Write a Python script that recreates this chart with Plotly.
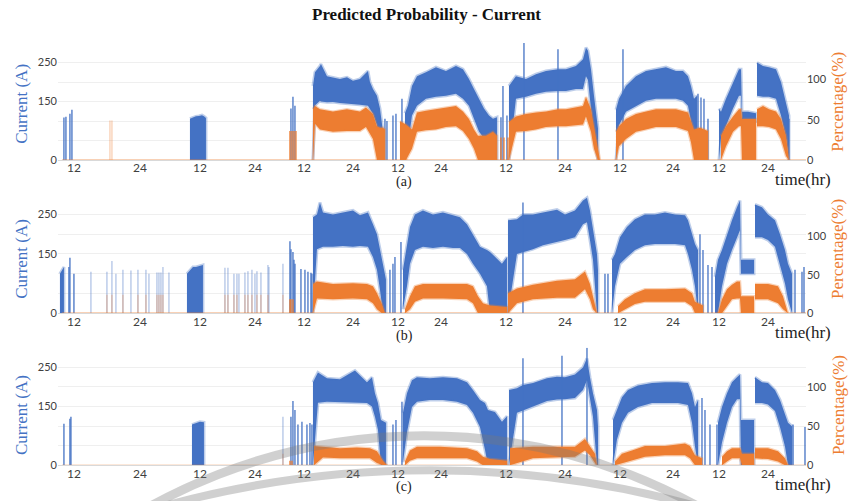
import plotly.graph_objects as go

BLUE = "#4472C4"
ORANGE = "#ED7D31"

# x positions are sample indices along the time axis (0 .. 748)
TICK_POS = [16, 82, 142, 197, 246, 295, 340, 383, 448, 507, 562, 615, 661, 710]
TICK_TEXT = ["12", "24"] * 7
ORNG_BASE_X = [4, 748]
ORNG_BASE_Y = [0, 0]

# ---------------- panel (a) ----------------
A_BLUE_X = [132, 135, 138, 141, 144, 146, 148, None,
            255, 257, 262, 263, 269, 275, 282, 289, 295, 302, 310, 312, 315, 319, 322, 325, None,
            347, 350, 354, 359, 368, 378, 388, 398, 405, 411, 416, 421, 426, 431, 435, 439, None,
            451, 458, 468, 478, 488, 500, 508, 518, 525, 528, 530, 533, 536, 540, None,
            558, 561, 568, 578, 588, 598, 608, 618, 625, 630, 633, 636, 639, None,
            661, 663, 668, 675, 681, 683, 684, 690, 698, None,
            699, 705, 711, 718, 723, 728, 731]
A_BLUE_HI = [106, 110, 112, 113, 115, 112, 108, None,
             190, 225, 241, 246, 215, 212, 208, 212, 203, 208, 228, 200, 182, 165, 132, 73, None,
             120, 140, 190, 215, 225, 238, 228, 241, 233, 208, 182, 157, 132, 114, 106, 110, None,
             190, 215, 208, 220, 228, 233, 233, 241, 258, 288, 280, 233, 165, 81, None,
             129, 157, 190, 215, 228, 233, 238, 228, 228, 215, 190, 157, 165, None,
             132, 124, 157, 200, 233, 233, 124, 124, 120, None,
             250, 241, 238, 233, 200, 149, 114]
A_BLUE_LO = [0, 0, 0, 0, 0, 0, 0, None,
             0, 140, 152, 150, 148, 149, 146, 144, 143, 142, 139, 130, 119, 89, 38, 0, None,
             0, 38, 114, 139, 157, 162, 165, 170, 157, 139, 106, 73, 56, 38, 0, 0, None,
             0, 157, 162, 170, 175, 177, 177, 182, 182, 215, 205, 132, 56, 0, None,
             0, 89, 124, 139, 152, 157, 157, 157, 152, 139, 99, 38, 0, None,
             0, 56, 89, 132, 165, 165, 99, 99, 99, None,
             165, 162, 162, 157, 114, 56, 0]
A_ORNG_X = [255, 257, 262, 275, 289, 302, 308, 315, 319, 322, 325, 327, None,
            342, 348, 354, 359, 368, 378, 388, 398, 405, 411, 416, 420, 428, 435, 439, None,
            451, 458, 468, 478, 488, 500, 508, 518, 525, 528, 533, 536, 540, 542, None,
            558, 561, 568, 578, 588, 598, 608, 618, 630, 633, 636, 642, 650, None,
            663, 668, 675, 681, 683, 684, 698, None,
            699, 705, 711, 718, 723, 728, 731]
A_ORNG_HI = [63, 67, 63, 60, 63, 60, 65, 57, 42, 40, 40, 38, None,
             48, 44, 38, 59, 61, 63, 65, 67, 60, 51, 38, 30, 30, 35, 30, None,
             47, 54, 57, 59, 60, 63, 63, 65, 67, 78, 63, 42, 14, 0, None,
             35, 42, 51, 57, 60, 63, 63, 63, 59, 47, 38, 40, 36, None,
             30, 42, 54, 63, 63, 51, 51, None,
             63, 67, 63, 60, 51, 30, 0]
A_ORNG_LO = [0, 45, 38, 35, 36, 36, 41, 26, 0, 0, 0, 0, None,
             0, 0, 14, 35, 37, 38, 41, 42, 36, 26, 14, 0, 0, 0, 0, None,
             0, 35, 36, 38, 41, 42, 42, 43, 44, 54, 35, 14, 0, 0, None,
             0, 17, 26, 35, 38, 41, 41, 41, 36, 22, 0, 0, 0, None,
             0, 17, 35, 42, 42, 0, 0, None,
             42, 42, 41, 38, 26, 5, 0]
A_BLUE_SPK_X = [6, 8, 12, 14, 233, 235, 237, 327, 329, 335, 338, 344, 443, 445, 449, 466, 500, 565, 640, 643, 646, 650, 731]
A_BLUE_SPK_Y = [109, 111, 119, 129, 132, 162, 139, 106, 100, 114, 119, 157, 110, 190, 114, 300, 284, 284, 170, 160, 157, 106, 106]
A_ORNG_SPK_X = [232, 234, 236, 238, 443, 446, 450]
A_ORNG_SPK_Y = [36, 36, 36, 36, 28, 28, 28]
A_FAINT_X = [52, 54]
A_FAINT_BLUE = [0, 0]
A_FAINT_ORNG = [49, 49]

# ---------------- panel (b) ----------------
B_BLUE_X = [2, 4, 6, None, 129, 132, 135, 138, 142, 145, None,
            255, 259, 262, 265, 275, 285, 295, 302, 310, 315, 319, 322, 325, 328, None,
            345, 349, 352, 357, 365, 375, 385, 395, 402, 409, 415, 422, 429, 432, 439, 444, 449, None,
            450, 459, 465, 475, 485, 499, 507, 517, 525, 529, 532, 535, 539, 540, None,
            554, 557, 562, 569, 577, 587, 597, 607, 617, 627, 630, 634, 637, 640, None,
            657, 660, 664, 669, 674, 679, 682, 683, 696, None,
            697, 704, 710, 717, 722, 727, 730, 734]
B_BLUE_HI = [100, 110, 117, None, 100, 110, 117, 117, 120, 122, None,
             243, 250, 280, 255, 250, 255, 260, 248, 255, 225, 200, 162, 125, 85, None,
             110, 175, 218, 250, 260, 250, 255, 248, 243, 225, 200, 168, 160, 155, 138, 125, 142, None,
             235, 238, 250, 250, 255, 262, 250, 260, 285, 292, 260, 210, 150, 110, None,
             135, 150, 192, 218, 238, 250, 250, 255, 250, 248, 235, 200, 175, 160, None,
             92, 135, 160, 200, 235, 268, 285, 135, 135, None,
             275, 268, 250, 235, 200, 160, 125, 100]
B_BLUE_LO = [0, 0, 0, None, 0, 0, 0, 0, 0, 0, None,
             0, 162, 165, 168, 168, 170, 168, 170, 168, 142, 110, 60, 0, 0, None,
             10, 68, 125, 160, 168, 165, 168, 165, 165, 150, 125, 100, 68, 0, 0, 0, 0, None,
             0, 150, 155, 162, 172, 180, 185, 192, 225, 230, 185, 135, 0, 0, None,
             0, 68, 125, 142, 160, 172, 175, 175, 175, 172, 150, 110, 68, 0, None,
             0, 0, 68, 125, 160, 192, 210, 100, 100, None,
             192, 192, 185, 168, 125, 75, 35, 0]
B_ORNG_X = [255, 259, 275, 295, 309, 315, 319, 324, 327, None,
            347, 352, 357, 365, 385, 409, 415, 420, 425, 432, 449, None,
            450, 459, 475, 499, 517, 527, 532, 535, 539, None,
            560, 567, 577, 587, 607, 627, 634, 637, 645, None,
            660, 664, 669, 674, 679, 682, 683, 696, None,
            697, 710, 720, 725, 730]
B_ORNG_HI = [38, 41, 38, 39, 38, 35, 26, 12, 0, None,
             5, 22, 35, 38, 38, 38, 35, 22, 13, 10, 8, None,
             26, 32, 37, 42, 44, 54, 38, 22, 0, None,
             9, 18, 26, 31, 31, 32, 26, 15, 10, None,
             0, 18, 31, 37, 41, 41, 22, 22, None,
             38, 38, 35, 22, 0]
B_ORNG_LO = [0, 19, 18, 19, 18, 13, 5, 0, 0, None,
             0, 5, 15, 19, 19, 18, 13, 0, 0, 0, 0, None,
             0, 13, 18, 20, 20, 31, 18, 5, 0, None,
             0, 5, 12, 15, 15, 15, 9, 0, 0, None,
             0, 0, 9, 18, 19, 19, 0, 0, None,
             18, 18, 13, 5, 0]
B_BLUE_SPK_X = [11, 12, 16, 232, 233, 235, 236, 237, 243, 247, 250, 253, 254, 332, 335, 337, 343, 465, 547, 550, 642, 645, 650, 654, 737, 744, 746]
B_BLUE_SPK_Y = [117, 140, 100, 182, 162, 155, 135, 125, 112, 110, 105, 102, 100, 110, 125, 142, 180, 280, 100, 100, 200, 160, 122, 117, 110, 105, 117]
B_ORNG_SPK_X = [232, 233, 235]
B_ORNG_SPK_Y = [18, 18, 18]
B_FAINT_X = [33, 49, 54, 58, 65, 73, 80, 88, 91, 99, 101, 103, 105, 111, 167, 170, 176, 179, 181, 187, 190, 194, 197, 199, 203, 210, 211, 225]
B_FAINT_BLUE = [105, 105, 132, 100, 110, 108, 110, 110, 100, 103, 103, 103, 117, 103, 115, 115, 100, 100, 100, 103, 106, 110, 100, 106, 103, 122, 117, 125]
B_FAINT_ORNG = [0, 24, 24, 0, 24, 0, 24, 24, 0, 24, 24, 24, 24, 0, 24, 24, 24, 24, 0, 24, 24, 24, 0, 24, 24, 24, 0, 24]

# ---------------- panel (c) ----------------
C_BLUE_X = [134, 138, 142, 146, None,
            255, 260, 269, 282, 297, 309, 314, 317, 320, 323, 328, None,
            345, 349, 354, 359, 372, 385, 399, 409, 415, 422, 427, 430, 437, 444, 449, None,
            451, 459, 465, 475, 489, 499, 507, 517, 525, 529, 532, 535, 539, 540, None,
            555, 559, 564, 570, 580, 594, 607, 620, 630, 634, 637, 640, None,
            660, 664, 669, 674, 679, 682, 683, 696, None,
            697, 704, 710, 717, 722, 727, 730, 734]
C_BLUE_HI = [104, 108, 111, 110, None,
             212, 237, 222, 220, 242, 212, 225, 184, 159, 116, 109, None,
             134, 184, 217, 225, 222, 225, 222, 212, 192, 167, 159, 141, 136, 111, 125, None,
             192, 197, 205, 210, 222, 226, 225, 232, 250, 273, 225, 184, 141, 100, None,
             116, 141, 174, 192, 204, 210, 212, 212, 210, 184, 149, 167, None,
             109, 149, 184, 212, 225, 232, 116, 116, None,
             225, 212, 210, 192, 167, 134, 109, 100]
C_BLUE_LO = [0, 0, 0, 0, None,
             0, 160, 162, 162, 160, 159, 150, 124, 91, 0, 0, None,
             8, 84, 149, 162, 167, 167, 162, 154, 134, 98, 40, 0, 0, 0, 0, None,
             0, 134, 140, 149, 164, 168, 169, 172, 192, 217, 169, 124, 0, 0, None,
             0, 66, 109, 134, 149, 159, 159, 159, 154, 109, 48, 0, None,
             0, 58, 109, 149, 169, 169, 0, 0, None,
             159, 159, 155, 139, 98, 48, 0, 0]
C_ORNG_X = [256, 265, 282, 299, 312, 319, 325, 329, None,
            347, 352, 359, 382, 409, 419, 425, 432, 449, None,
            452, 475, 499, 517, 527, 532, 537, 539, None,
            557, 564, 574, 587, 607, 627, 632, 637, 644, None,
            664, 669, 674, 682, 684, 696, None,
            697, 710, 720, 727, 730]
C_ORNG_HI = [25, 24, 22, 23, 22, 18, 6, 0, None,
             5, 19, 24, 24, 22, 18, 11, 8, 6, None,
             22, 24, 24, 24, 34, 25, 15, 0, None,
             5, 15, 19, 25, 25, 28, 25, 13, 9, None,
             11, 18, 22, 22, 15, 15, None,
             22, 22, 18, 9, 0]
C_ORNG_LO = [0, 10, 9, 9, 9, 3, 0, 0, None,
             0, 6, 9, 9, 9, 5, 0, 0, 0, None,
             0, 9, 10, 11, 19, 13, 3, 0, None,
             0, 3, 6, 11, 13, 13, 9, 0, 0, None,
             0, 5, 9, 9, 0, 0, None,
             9, 8, 5, 0, 0]
C_BLUE_SPK_X = [6, 12, 13, 233, 235, 237, 240, 244, 249, 252, 254, 335, 338, 344, 465, 504, 529, 644, 647, 652, 659, 735, 747]
C_BLUE_SPK_Y = [106, 119, 124, 124, 164, 141, 104, 111, 104, 108, 104, 104, 116, 162, 273, 280, 300, 172, 141, 104, 104, 104, 98]
C_ORNG_SPK_X = [232, 234]
C_ORNG_SPK_Y = [6, 6]
C_FAINT_X = [225]
C_FAINT_BLUE = [124]
C_FAINT_ORNG = [15]

PANELS = [
    dict(bx=A_BLUE_X, bhi=A_BLUE_HI, blo=A_BLUE_LO, ox=A_ORNG_X, ohi=A_ORNG_HI, olo=A_ORNG_LO,
         bsx=A_BLUE_SPK_X, bsy=A_BLUE_SPK_Y, osx=A_ORNG_SPK_X, osy=A_ORNG_SPK_Y,
         fx=A_FAINT_X, fb=A_FAINT_BLUE, fo=A_FAINT_ORNG),
    dict(bx=B_BLUE_X, bhi=B_BLUE_HI, blo=B_BLUE_LO, ox=B_ORNG_X, ohi=B_ORNG_HI, olo=B_ORNG_LO,
         bsx=B_BLUE_SPK_X, bsy=B_BLUE_SPK_Y, osx=B_ORNG_SPK_X, osy=B_ORNG_SPK_Y,
         fx=B_FAINT_X, fb=B_FAINT_BLUE, fo=B_FAINT_ORNG),
    dict(bx=C_BLUE_X, bhi=C_BLUE_HI, blo=C_BLUE_LO, ox=C_ORNG_X, ohi=C_ORNG_HI, olo=C_ORNG_LO,
         bsx=C_BLUE_SPK_X, bsy=C_BLUE_SPK_Y, osx=C_ORNG_SPK_X, osy=C_ORNG_SPK_Y,
         fx=C_FAINT_X, fb=C_FAINT_BLUE, fo=C_FAINT_ORNG),
]


def split(xs, *cols):
    segs, cur = [], [[] for _ in range(len(cols) + 1)]
    for i, x in enumerate(xs):
        if x is None:
            if cur[0]:
                segs.append(cur)
            cur = [[] for _ in range(len(cols) + 1)]
        else:
            cur[0].append(x)
            for k, c in enumerate(cols):
                cur[k + 1].append(c[i])
    if cur[0]:
        segs.append(cur)
    return segs


def band(xs, lo, hi):
    X, Y = [], []
    for sx, slo, shi in split(xs, lo, hi):
        X += sx + sx[::-1] + [None]
        Y += shi + slo[::-1] + [None]
    return X, Y


def spikes(xs, ys, base=None):
    X, Y = [], []
    for i, (x, y) in enumerate(zip(xs, ys)):
        b = 0 if base is None else base[i]
        if y > b:
            X += [x, x, None]
            Y += [b, y, None]
    return X, Y


fig = go.Figure()
for r, p in enumerate(PANELS):
    xa = "x" if r == 0 else f"x{r + 1}"
    ya = "y" if r == 0 else f"y{2 * r + 1}"
    ya2 = f"y{2 * r + 2}"
    # blue (current, primary axis)
    X, Y = band(p["bx"], p["blo"], p["bhi"])
    fig.add_trace(go.Scatter(x=X, y=Y, mode="lines", fill="toself", fillcolor=BLUE,
                             line=dict(color="rgba(68,114,196,0.35)", width=3), xaxis=xa, yaxis=ya,
                             hoverinfo="skip", showlegend=False))
    X, Y = spikes(p["bsx"], p["bsy"])
    fig.add_trace(go.Scatter(x=X, y=Y, mode="lines", line=dict(color=BLUE, width=1.3),
                             xaxis=xa, yaxis=ya, hoverinfo="skip", showlegend=False))
    X, Y = spikes(p["fx"], p["fb"])
    fig.add_trace(go.Scatter(x=X, y=Y, mode="lines", line=dict(color="rgba(68,114,196,0.45)", width=1.2),
                             xaxis=xa, yaxis=ya, hoverinfo="skip", showlegend=False))
    # orange (percentage, secondary axis)
    fig.add_trace(go.Scatter(x=ORNG_BASE_X, y=ORNG_BASE_Y, mode="lines",
                             line=dict(color="rgba(237,125,49,0.7)", width=1.2),
                             xaxis=xa, yaxis=ya2, hoverinfo="skip", showlegend=False))
    X, Y = band(p["ox"], p["olo"], p["ohi"])
    fig.add_trace(go.Scatter(x=X, y=Y, mode="lines", fill="toself", fillcolor=ORANGE,
                             line=dict(color="rgba(237,125,49,0.35)", width=2.5), xaxis=xa, yaxis=ya2,
                             hoverinfo="skip", showlegend=False))
    X, Y = spikes(p["osx"], p["osy"])
    fig.add_trace(go.Scatter(x=X, y=Y, mode="lines", line=dict(color=ORANGE, width=1.3),
                             xaxis=xa, yaxis=ya2, hoverinfo="skip", showlegend=False))
    X, Y = spikes(p["fx"], p["fo"])
    fig.add_trace(go.Scatter(x=X, y=Y, mode="lines", line=dict(color="rgba(237,125,49,0.4)", width=1.2),
                             xaxis=xa, yaxis=ya2, hoverinfo="skip", showlegend=False))

TICKFONT = dict(family="Lato, Liberation Sans, sans-serif", size=11, color="#404040")
XDOM = [0.068, 0.946]
YDOMS = [[0.6766, 0.9132], [0.3673, 0.6068], [0.0599, 0.2974]]
RIGHT_MAX = [145, 154, 151]
LEFT_VALS = [0, 50, 100, 150, 200, 250, 300]
LEFT_TEXT = ["0", "", "", "150", "", "250", ""]

layout = dict(
    width=852, height=501, margin=dict(l=0, r=0, t=0, b=0),
    paper_bgcolor="white", plot_bgcolor="white", showlegend=False,
)
for r in range(3):
    xk = "xaxis" if r == 0 else f"xaxis{r + 1}"
    yk = "yaxis" if r == 0 else f"yaxis{2 * r + 1}"
    yk2 = f"yaxis{2 * r + 2}"
    xa = "x" if r == 0 else f"x{r + 1}"
    ya = "y" if r == 0 else f"y{2 * r + 1}"
    layout[xk] = dict(domain=XDOM, anchor=ya, range=[0, 748], tickmode="array",
                      tickvals=TICK_POS, ticktext=TICK_TEXT, showgrid=False, zeroline=False,
                      showline=True, linecolor="#d9d9d9", linewidth=1, ticks="",
                      ticklabelstandoff=-3,
                      tickfont=dict(TICKFONT, size=12), fixedrange=True)
    layout[yk] = dict(domain=YDOMS[r], anchor=xa, range=[0, 300], tickmode="array",
                      tickvals=LEFT_VALS, ticktext=LEFT_TEXT, showgrid=True, gridcolor="#efefef",
                      zeroline=False, showline=False, ticks="", tickfont=TICKFONT)
    layout[yk2] = dict(overlaying=ya, side="right", anchor=xa, range=[0, RIGHT_MAX[r]],
                       tickmode="array", tickvals=[0, 50, 100], showgrid=False, zeroline=False,
                       showline=False, ticks="", tickfont=TICKFONT)

SERIF = "Liberation Serif, Times New Roman, serif"
ann = [dict(text="<b>Predicted Probability - Current</b>", x=426 / 852, y=1 - 15 / 501,
            font=dict(family=SERIF, size=17, color="#111111"))]
for r, (cy_left, cy_right, lab_y, time_y, lab) in enumerate(
        [(105, 103, 184, 182, "(a)"), (262, 252, 340, 337, "(b)"), (420, 410, 493, 490, "(c)")]):
    ann.append(dict(text="Current (A)", x=22 / 852, y=1 - cy_left / 501, textangle=-90,
                    font=dict(family=SERIF, size=17, color=BLUE)))
    ann.append(dict(text="Percentage(%)", x=838 / 852, y=1 - cy_right / 501, textangle=-90,
                    font=dict(family=SERIF, size=17, color=ORANGE)))
    ann.append(dict(text=lab, x=404 / 852, y=1 - lab_y / 501,
                    font=dict(family=SERIF, size=14, color="#222222")))
    ann.append(dict(text="time(hr)", x=803 / 852, y=1 - time_y / 501,
                    font=dict(family=SERIF, size=17, color="#222222")))
for a in ann:
    a.update(xref="paper", yref="paper", showarrow=False, xanchor="center", yanchor="middle")
layout["annotations"] = ann


def circ(cx, cy, rad, w):
    return dict(type="circle", xref="paper", yref="paper", layer="above",
                x0=(cx - rad) / 852, x1=(cx + rad) / 852,
                y0=1 - (cy + rad) / 501, y1=1 - (cy - rad) / 501,
                line=dict(color="rgba(120,120,120,0.35)", width=w))


layout["shapes"] = [circ(424, 1001, 560, 9), circ(430, 1469, 993, 8)]

fig.update_layout(**layout)
fig.write_html("out.html")
